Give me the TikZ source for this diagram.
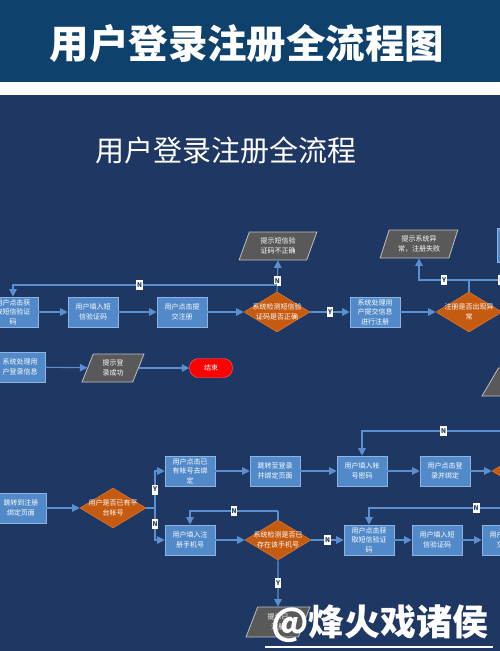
\documentclass[tikz,border=0pt]{standalone}
\usepackage{fontspec}
\newfontfamily\cjk{Noto Sans CJK SC}
\usetikzlibrary{arrows.meta,shapes.geometric,positioning}
\definecolor{headblue}{HTML}{0E416B}
\definecolor{pagenavy}{HTML}{1F3763}
\definecolor{boxfill}{HTML}{5189C9}
\definecolor{boxline}{HTML}{8EB4E3}
\definecolor{flowline}{HTML}{5B8FD0}
\definecolor{decfill}{HTML}{C55A11}
\definecolor{decline}{HTML}{D9772E}
\definecolor{iofill}{HTML}{595959}
\definecolor{ioline}{HTML}{BFBFBF}
\definecolor{endred}{HTML}{FF0000}
\tikzset{
  boxfont/.style={font=\cjk\fontsize{7}{9.5}\selectfont},
  proc/.style={draw=boxline, fill=boxfill, line width=.6pt, minimum width=50pt,
    minimum height=30pt, inner sep=1pt, align=center, text=white, boxfont},
  decide/.style={diamond, draw=decline, fill=decfill, line width=.6pt,
    minimum width=66pt, minimum height=40pt, inner sep=0pt,
    label={[text=white, align=center, boxfont]center:#1}},
  io/.style={trapezium, trapezium left angle=70, trapezium right angle=110,
    trapezium stretches=true, draw=ioline, fill=iofill, line width=.8pt,
    minimum width=78pt, minimum height=28pt, inner sep=1pt, align=center,
    text=white, boxfont},
  stopbox/.style={rounded corners=9pt, draw=red!60!white, fill=endred,
    minimum width=43pt, minimum height=19pt, text=white, boxfont},
  link/.style={draw=flowline, line width=1.1pt},
  flow/.style={link, -{Triangle[length=7.5pt,width=7.5pt]}, color=flowline},
  yn/.style={fill=white, text=pagenavy, inner sep=1pt, minimum height=10pt,
    font=\cjk\fontsize{6.5}{7}\selectfont\bfseries}
}
\begin{document}
\begin{tikzpicture}[x=1pt, y=-1pt]
  \useasboundingbox (0,0) rectangle (500,651);
  \fill[white] (0,0) rectangle (500,651);
  \fill[headblue] (0,0) rectangle (500,82);
  \fill[pagenavy] (0,95) rectangle (500,651);
  \node[text=white, font=\cjk\bfseries\fontsize{39.5}{41}\selectfont] (title) at (247,44) {用户登录注册全流程图};
  \node[text=white, font=\cjk\fontsize{29}{31}\selectfont] (subtitle) at (226,150) {用户登录注册全流程};

  \begin{scope}
  \clip (0,95) rectangle (500,651);
  % registration by SMS code
  \node[proc] (a1) at (13,312) {用户点击获\\取短信验证\\码};
  \node[proc] (a2) at (93,312) {用户填入短\\信验证码};
  \node[proc] (a3) at (182,312) {用户点击提\\交注册};
  \node[decide={系统检测短信验\\证码是否正确}] (d1) at (277,312) {};
  \node[io] (e1) at (278,246) {提示短信验\\证码不正确};
  \node[proc] (a4) at (375,312) {系统处理用\\户提交信息\\进行注册};
  \node[decide={注册是否出现异\\常}] (d2) at (469,312) {};
  \node[io] (e2) at (419,244) {提示系统异\\常，注册失败};
  \node[proc, minimum height=34pt] (a5) at (522,245) {};
  \coordinate (k1) at (277,285);
  \coordinate (k2) at (469,280);
  \coordinate (k2e) at (510,280);
  \draw[flow] (a1) -- (a2);
  \draw[flow] (a2) -- (a3);
  \draw[flow] (a3) -- (d1);
  \draw[flow] (d1.north) -- node[yn, pos=.35] {N} (e1.south);
  \draw[flow] (k1) -| node[yn, pos=.26] {N} (a1.north);
  \draw[flow] (d1) -- node[yn] {Y} (a4);
  \draw[flow] (a4) -- (d2);
  \draw[link] (d2.north) -- (k2);
  \draw[flow] (k2) -| node[yn, pos=.25] {Y} (e2.south);
  \draw[link] (k2) -- node[yn, pos=.8] {N} (k2e);

  % login
  \node[proc] (h1) at (20,367) {系统处理用\\户登录信息};
  \node[io, minimum width=62pt] (h2) at (113,368) {提示登\\录成功};
  \node[stopbox] (h3) at (211,368) {结束};
  \node[io] (h4) at (521,382) {};
  \draw[flow] (h1) -- (h2);
  \draw[flow] (h2) -- (h3);

  % binding an existing account
  \node[proc] (b1) at (190,471) {用户点击已\\有帐号去绑\\定};
  \node[proc] (b2) at (275,471) {跳转至登录\\并绑定页面};
  \node[proc] (b3) at (362,471) {用户填入帐\\号密码};
  \node[proc] (b4) at (445,471) {用户点击登\\录并绑定};
  \node[decide={}] (d5) at (525,471) {};
  \coordinate (k3) at (525,431);
  \draw[flow] (b1) -- (b2);
  \draw[flow] (b2) -- (b3);
  \draw[flow] (b3) -- (b4);
  \draw[flow] (b4) -- (d5);
  \draw[link] (d5.north) -- (k3);
  \draw[flow] (k3) -| node[yn, pos=.25] {N} (b3.north);

  % registering a phone number
  \node[proc] (c1) at (21,508) {跳转到注册\\绑定页面};
  \node[decide={用户是否已有平\\台帐号}] (d3) at (113,508) {};
  \node[proc] (q1) at (190,540) {用户填入注\\册手机号};
  \node[decide={系统检测是否已\\存在该手机号}] (d4) at (278,540) {};
  \node[proc] (s1) at (369,540) {用户点击获\\取短信验证\\码};
  \node[proc] (s2) at (437,540) {用户填入短\\信验证码};
  \node[proc] (s3) at (507,540) {用户点击提\\交注册};
  \node[io, minimum width=64pt, minimum height=30pt] (v1) at (278,622) {提示已\\注册};
  \coordinate (j1) at (155,508);
  \coordinate (k4) at (278,511);
  \coordinate (k5) at (510,508);
  \draw[flow] (c1) -- (d3);
  \draw[link] (d3.east) -- (j1);
  \draw[flow] (j1) |- node[yn, pos=.25] {Y} (b1.west);
  \draw[flow] (j1) |- node[yn, pos=.25] {N} (q1.west);
  \draw[flow] (q1) -- (d4);
  \draw[link] (d4.north) -- (k4);
  \draw[flow] (k4) -| node[yn, pos=.25] {N} (q1.north);
  \draw[flow] (d4) -- node[yn] {N} (s1);
  \draw[flow] (s1) -- (s2);
  \draw[flow] (s2) -- (s3);
  \draw[flow] (k5) -| node[yn, pos=.12] {N} (s1.north);
  \draw[flow] (d4.south) -- node[yn] {Y} (v1.north);
  \end{scope}

  % watermark
  \node[text=white, font=\cjk\bfseries\fontsize{36}{38}\selectfont] (mark) at (380,624) {@烽火戏诸侯};
  \draw[white, line width=1.5pt] (265,647) -- (493,647);
\end{tikzpicture}
\end{document}
